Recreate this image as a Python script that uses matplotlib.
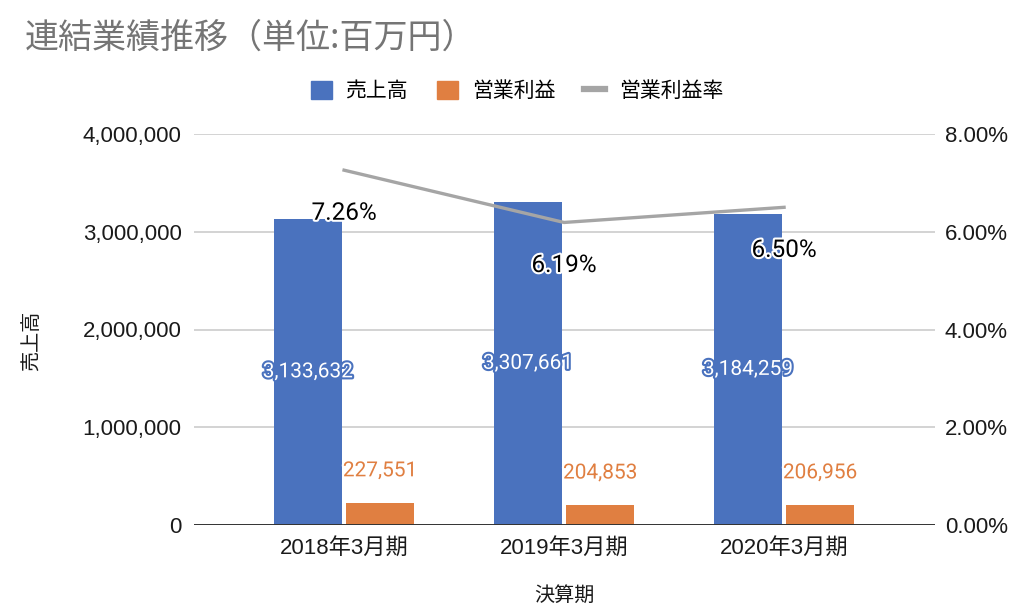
import matplotlib
matplotlib.use('Agg')
import matplotlib.pyplot as plt
import matplotlib.patheffects as pe
from matplotlib.patches import Patch
from matplotlib.lines import Line2D
from matplotlib.ticker import FuncFormatter, FixedLocator
import numpy as np

categories = ['2018年3月期', '2019年3月期', '2020年3月期']
sales = [3133632, 3307661, 3184259]
op_income = [227551, 204853, 206956]
op_margin = [7.26, 6.19, 6.50]
y_left_ticks = [0, 1000000, 2000000, 3000000, 4000000]
y_right_ticks = [0, 2, 4, 6, 8]

BLUE = '#4a72be'
ORANGE = '#e07f41'
GRAY = '#a5a5a5'

FONT = ['Liberation Sans', 'Noto Sans CJK JP']
LABFONT = ['Roboto', 'Noto Sans CJK JP']
plt.rcParams['font.family'] = FONT

fig = plt.figure(figsize=(10.24, 6.15), dpi=100)
ax = fig.add_axes([194/1024, 1-525/615, (935-194)/1024, (525-134)/615])
ax2 = ax.twinx()

x = np.arange(len(categories))
off = 0.164
w = 0.31
ax.bar(x - off, sales, width=w, color=BLUE, zorder=3)
ax.bar(x + off, op_income, width=w, color=ORANGE, zorder=3)

ax.set_xlim(-0.682, 2.686)
ax.set_ylim(0, 4000000)
ax.yaxis.set_major_locator(FixedLocator(y_left_ticks))
ax.yaxis.set_major_formatter(FuncFormatter(lambda v, p: f'{int(v):,}'))
ax.set_xticks(x)
ax.set_xticklabels(categories)
ax.grid(axis='y', color='#cccccc', lw=1.2, zorder=0)
ax.set_axisbelow(True)
for s in ax.spines.values():
    s.set_visible(False)
for s in ax2.spines.values():
    s.set_visible(False)
ax.axhline(0, color='#333333', lw=1.4, zorder=4)
ax.tick_params(axis='y', length=0, pad=9, labelsize=16, labelcolor='#1a1a1a')
ax.tick_params(axis='x', length=0, pad=9, labelsize=16, labelcolor='#1a1a1a')

ax2.set_ylim(0, 8)
ax2.yaxis.set_major_locator(FixedLocator(y_right_ticks))
ax2.yaxis.set_major_formatter(FuncFormatter(lambda v, p: f'{v:.2f}%'))
ax2.tick_params(axis='y', length=0, pad=7, labelsize=16, labelcolor='#1a1a1a')
ax2.plot(x, op_margin, color=GRAY, lw=2.4, zorder=5)
ax.set_zorder(1)
ax2.set_zorder(2)
ax2.patch.set_visible(False)

# data labels
for xi, v in zip(x, sales):
    ax.text(xi - off, v / 2, f'{v:,}', ha='center', va='center', fontsize=15,
            color='white', family=LABFONT, zorder=6,
            path_effects=[pe.withStroke(linewidth=3, foreground=BLUE)])
for xi, v in zip(x, op_income):
    ax.annotate(f'{v:,}', (xi + off, v), xytext=(0, 23), textcoords='offset points',
                ha='center', va='center', fontsize=15, color=ORANGE, family=LABFONT,
                zorder=6, path_effects=[pe.withStroke(linewidth=3, foreground='white')])
for xi, v in zip(x, op_margin):
    ax2.annotate(f'{v:.2f}%', (xi, v), xytext=(0, -31), textcoords='offset points',
                 ha='center', va='center', fontsize=17.5, color='black', family=LABFONT,
                 zorder=7, path_effects=[pe.withStroke(linewidth=3, foreground='white')])

fig.text(25/1024, 1-38/615, '連結業績推移（単位:百万円）', fontsize=24.5, color='#757575',
         va='center', ha='left', family=['Noto Sans CJK JP', 'DejaVu Sans'])
fig.text(32/1024, 1-341/615, '売上高', rotation=90, fontsize=14.5, color='#1a1a1a',
         va='center', ha='center', family=['Noto Sans CJK JP', 'DejaVu Sans'])
fig.text(564/1024, 1-595/615, '決算期', fontsize=14.5, color='#1a1a1a',
         va='center', ha='center', family=['Noto Sans CJK JP', 'DejaVu Sans'])

handles = [Patch(color=BLUE), Patch(color=ORANGE), Line2D([], [], color=GRAY, lw=4.5)]
labels = ['売上高', '営業利益', '営業利益率']
fig.legend(handles, labels, loc='center', bbox_to_anchor=(517/1024, 1-91/615), ncol=3,
           frameon=False, handlelength=1.0, handleheight=1.0,
           handletextpad=0.65, columnspacing=1.4,
           prop={'family': ['Noto Sans CJK JP', 'DejaVu Sans'], 'size': 15})

fig.savefig('out.png', dpi=100)
